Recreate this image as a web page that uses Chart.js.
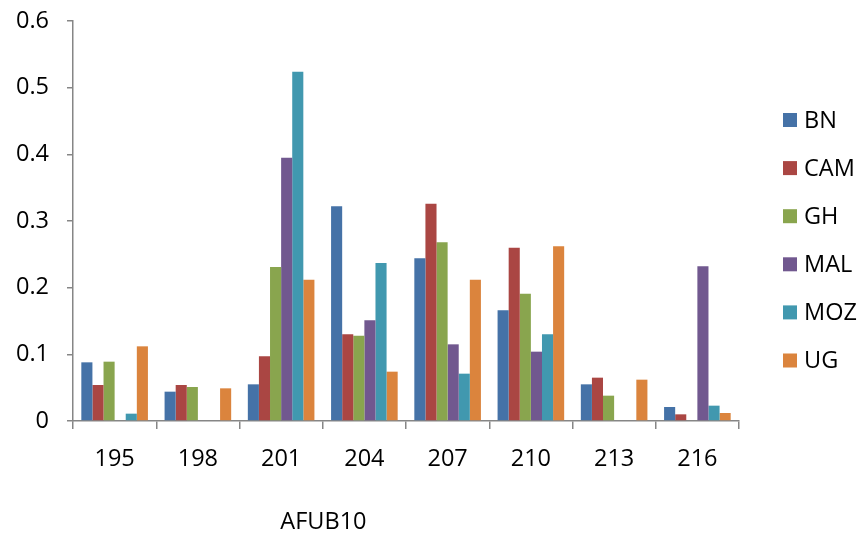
<!DOCTYPE html>
<html>

<head>
  <title>AFUB10</title>
  <script src="https://cdn.jsdelivr.net/npm/chart.js"></script>
  <style>
    body { margin: 0; background: #fff; }
    #wrap { width: 861px; height: 535px; }
  </style>
</head>

<body>
  <div id="wrap"><canvas id="afub10" width="861" height="535"></canvas></div>
  <script>
    // allele sizes and frequencies per population
    var alleles = ['195', '198', '201', '204', '207', '210', '213', '216'];
    var populations = ['BN', 'CAM', 'GH', 'MAL', 'MOZ', 'UG'];
    var BN = [0.088, 0.044, 0.055, 0.322, 0.244, 0.166, 0.055, 0.021];
    var CAM = [0.054, 0.054, 0.097, 0.130, 0.326, 0.260, 0.065, 0.010];
    var GH = [0.089, 0.051, 0.231, 0.128, 0.268, 0.191, 0.038, 0];
    var MAL = [0, 0, 0.395, 0.151, 0.115, 0.104, 0, 0.232];
    var MOZ = [0.011, 0, 0.524, 0.237, 0.071, 0.130, 0, 0.023];
    var UG = [0.112, 0.049, 0.212, 0.074, 0.212, 0.262, 0.062, 0.012];
    var yTickLabels = ['0', '0.1', '0.2', '0.3', '0.4', '0.5', '0.6'];
    var axisTitle = 'AFUB10';

    var colors = ['#4572A7', '#AA4643', '#89A54E', '#71588F', '#4198AF', '#DB843D'];
    var series = [BN, CAM, GH, MAL, MOZ, UG];
    var FONT = "'Open Sans', sans-serif";
    var AXIS = '#868686';

    // legend drawn by hand so it can sit in the right margin
    var sideLegend = {
      id: 'sideLegend',
      afterDraw: function (chart) {
        var ctx = chart.ctx;
        ctx.save();
        ctx.font = '23.5px ' + FONT;
        ctx.textBaseline = 'middle';
        ctx.textAlign = 'left';
        populations.forEach(function (name, i) {
          var cy = 120 + i * 48.1;
          ctx.fillStyle = colors[i];
          ctx.fillRect(783, cy - 7, 14, 14);
          ctx.fillStyle = '#000';
          ctx.fillText(name, 804, cy + 1);
        });
        // axis title, placed left of centre
        var area = chart.chartArea;
        ctx.textAlign = 'center';
        ctx.fillText(axisTitle, area.left + (area.right - area.left) * 0.376, 522);
        ctx.restore();
      }
    };

    var ctx = document.getElementById('afub10').getContext('2d');
    Chart.defaults.font.family = FONT;
    Chart.defaults.font.size = 23.5;
    Chart.defaults.color = '#000';

    var chart = new Chart(ctx, {
      type: 'bar',
      data: {
        labels: alleles,
        datasets: populations.map(function (name, i) {
          return {
            label: name,
            data: series[i],
            backgroundColor: colors[i],
            borderWidth: 0,
            categoryPercentage: 0.8,
            barPercentage: 1.0
          };
        })
      },
      options: {
        responsive: false,
        animation: false,
        layout: {
          padding: { top: 21, right: 122, bottom: 54, left: 0 }
        },
        plugins: {
          legend: { display: false },
          tooltip: { enabled: false }
        },
        scales: {
          x: {
            offset: true,
            grid: {
              offset: true,
              drawOnChartArea: false,
              color: AXIS,
              lineWidth: 1.5,
              tickLength: 8
            },
            border: { color: AXIS, width: 1.5 },
            ticks: { padding: 16 },
            afterFit: function (s) { s.height = 60; }
          },
          y: {
            min: 0,
            max: 0.6,
            grid: {
              drawOnChartArea: false,
              color: AXIS,
              lineWidth: 1.5,
              tickLength: 6
            },
            border: { color: AXIS, width: 1.5 },
            ticks: {
              stepSize: 0.1,
              padding: 18,
              callback: function (v, i) { return yTickLabels[i]; }
            },
            afterFit: function (s) {
              s.width = 73;
              s.paddingTop = 0;
              s.paddingBottom = 0;
            }
          }
        }
      },
      plugins: [sideLegend]
    });
  </script>
</body>

</html>
